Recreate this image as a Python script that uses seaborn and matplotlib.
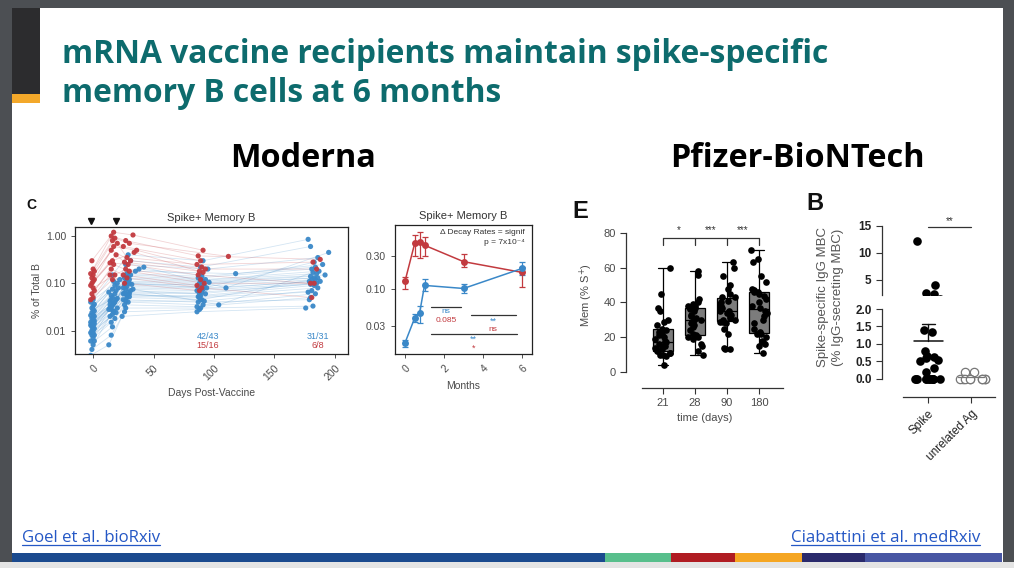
import numpy as np
import pandas as pd
import matplotlib
matplotlib.use("Agg")
import matplotlib.pyplot as plt
from matplotlib.patches import Rectangle
from matplotlib.lines import Line2D
import seaborn as sns

nan = np.nan

# ---------------- DATA ----------------
# Moderna, left panel (Spike+ memory B, % of total B), per-subject visits
blue_day_v1 = [-2,-1,0,1,-2,0,-1,1,0,-2,-1,0,1,0,-1,-2,0,1,-1,0,-2,1,0,-1,0,1,-2,0,-1,1,0,-1,0,1,-2,0]
blue_val_v1 = [0.003,0.004,0.005,0.006,0.006,0.007,0.008,0.008,0.009,0.009,0.010,0.010,0.011,0.012,0.012,0.013,0.013,0.014,
               0.014,0.015,0.015,0.016,0.017,0.018,0.019,0.020,0.021,0.022,0.024,0.026,0.028,0.030,0.033,0.036,0.040,0.045]
blue_day_v2 = [13,15,14,16,17,15,18,14,16,19,13,17,15,20,14,16,18,15,17,19,14,16,20,15,18,17,13,19,16,21,15,18,20,17,22,16]
blue_val_v2 = [0.005,0.008,0.020,0.012,0.025,0.015,0.018,0.030,0.022,0.024,0.028,0.026,0.032,0.030,0.035,0.034,0.040,0.028,
               0.037,0.045,0.042,0.050,0.048,0.055,0.060,0.038,0.065,0.070,0.075,0.080,0.045,0.090,0.100,0.110,0.120,0.150]
blue_day_v3 = [24,26,25,27,28,26,29,25,27,30,28,26,29,31,27,25,28,30,26,29,32,27,28,30,26,33,29,31,28,35,30,38,27,42,31,29]
blue_val_v3 = [0.020,0.025,0.045,0.030,0.050,0.035,0.040,0.060,0.042,0.052,0.055,0.062,0.065,0.070,0.075,0.080,0.085,0.060,
               0.090,0.100,0.095,0.105,0.110,0.120,0.130,0.075,0.140,0.150,0.160,0.180,0.100,0.200,0.250,0.220,0.300,0.400]
blue_day_v4 = [86,88,87,89,90,86,91,88,92,87,89,93,90,88,86,91,94,89,87,92,90,88,96,91,89,104,93,87,90,118,92,88,95,110,89,91]
blue_val_v4 = [0.025,0.028,0.040,0.030,0.045,0.032,0.035,0.050,0.042,0.052,0.055,0.060,0.065,0.060,0.070,0.075,0.080,0.045,
               0.085,0.090,0.095,0.100,0.105,0.110,0.115,0.035,0.120,0.130,0.140,0.160,0.080,0.150,0.200,0.080,0.220,0.300]
blue_day_v5 = [176,nan,179,182,nan,180,184,178,181,186,183,nan,180,185,182,179,188,181,184,nan,183,186,180,192,185,182,187,
               181,184,190,183,nan,186,195,180,178]
blue_val_v5 = [0.030,nan,0.045,0.033,nan,0.050,0.060,0.065,0.070,0.080,0.090,nan,0.095,0.100,0.100,0.110,0.110,0.120,0.120,
               nan,0.130,0.130,0.140,0.150,0.160,0.170,0.180,0.200,0.220,0.250,0.280,nan,0.350,0.450,0.600,0.850]

red_day_v1 = [-2,0,-1,1,0,-2,-1,0,1,-1,0,-2,1,0,-1]
red_val_v1 = [0.045,0.050,0.060,0.070,0.080,0.090,0.100,0.110,0.120,0.130,0.150,0.160,0.180,0.200,0.300]
red_day_v2 = [14,16,15,17,18,14,16,19,15,17,20,16,18,15,17]
red_val_v2 = [0.15,0.12,0.20,0.25,0.15,0.27,0.30,0.40,0.50,0.60,0.70,0.80,0.90,1.00,1.20]
red_day_v3 = [26,28,25,30,27,29,34,26,31,36,28,25,30,27,33]
red_val_v3 = [0.10,0.13,0.15,0.18,0.20,0.25,0.45,0.28,0.30,0.50,0.35,0.60,0.70,0.80,1.05]
red_day_v4 = [88,90,86,92,89,87,91,88,93,90,86,89,112,87,91]
red_val_v4 = [0.07,0.08,0.09,0.10,0.12,0.15,0.17,0.18,0.20,0.22,0.25,0.30,0.37,0.38,0.50]
red_day_v5 = [nan,181,nan,183,nan,180,nan,nan,185,nan,182,nan,nan,188,nan]
red_val_v5 = [nan,0.05,nan,0.10,nan,0.10,nan,nan,0.20,nan,0.28,nan,nan,0.32,nan]

# Moderna, right panel (geometric means with error bars)
months = [0, 0.5, 0.75, 1.0, 3, 6]
red_mean = [0.13, 0.46, 0.48, 0.43, 0.25, 0.175]
red_lo = [0.10, 0.30, 0.28, 0.30, 0.21, 0.107]
red_hi = [0.15, 0.60, 0.67, 0.56, 0.32, 0.21]
blue_mean = [0.017, 0.039, 0.046, 0.114, 0.103, 0.20]
blue_lo = [0.015, 0.034, 0.033, 0.094, 0.088, 0.16]
blue_hi = [0.019, 0.045, 0.057, 0.14, 0.12, 0.25]

# Pfizer, panel E (Mem % S+ by time)
e_labels = ["21", "28", "90", "180"]
mem_d21 = [4,9,10,10,11,11,12,12,13,13,14,15,15,16,17,18,19,20,21,22,23,24,25,27,29,30,35,37,45,60]
mem_d28 = [10,12,15,16,19,20,20,21,22,24,26,27,28,29,30,30,31,32,33,35,36,37,37,38,38,39,40,42,56,58]
mem_d90 = [13,13,14,22,25,28,29,29,30,30,31,32,33,34,35,35,36,37,38,39,40,41,43,43,45,48,50,55,60,63]
mem_d180 = [11,15,16,17,18,20,22,22,23,25,28,30,32,34,35,37,38,40,42,44,45,46,46,47,48,52,55,63,65,70]

# Pfizer, panel B (IgG MBC)
b_labels = ["Spike", "unrelated Ag"]
mbc_spike = [12.3,4.0,2.5,2.4,1.4,1.35,0.8,0.65,0.62,0.6,0.55,0.5,0.3,0.2,0,0,0,0,0,0,0,0,0,0,0,0]
mbc_unrel = [0.2,0.2,0,0,0,0,0,0,0,0,0]

# ---------------- STYLE ----------------
sns.set_theme(style="ticks")
plt.rcParams["font.family"] = ["Liberation Sans", "DejaVu Sans"]
W, H = 1014, 568
fig = plt.figure(figsize=(W / 100, H / 100), dpi=100)
fig.patch.set_facecolor("#4c4f53")

def rect(l, t, r, b):
    return [l / W, 1 - b / H, (r - l) / W, (b - t) / H]

def fx(x):
    return x / W

def fy(y):
    return 1 - y / H

# slide background
fig.add_artist(Rectangle((fx(12), fy(562)), (1003 - 12) / W, (562 - 8) / H, transform=fig.transFigure,
                         facecolor="white", edgecolor="none", zorder=-10))
fig.add_artist(Rectangle((0, 0), 1, 6 / H, transform=fig.transFigure, facecolor="#e4e4e4", edgecolor="none", zorder=-9))
fig.add_artist(Rectangle((fx(12), fy(94)), 28 / W, 86 / H, transform=fig.transFigure, facecolor="#2c2c2e",
                         edgecolor="none"))
fig.add_artist(Rectangle((fx(12), fy(103)), 28 / W, 9 / H, transform=fig.transFigure, facecolor="#f3a82a",
                         edgecolor="none"))
band = [(12, 605, "#1b4a8e"), (605, 671, "#58bf8c"), (671, 735, "#b01c22"), (735, 802, "#f5a623"),
        (802, 865, "#2a2a6c"), (865, 1002, "#4856a3")]
for x0, x1, c in band:
    fig.add_artist(Rectangle((fx(x0), fy(562)), (x1 - x0) / W, 9 / H, transform=fig.transFigure,
                             facecolor=c, edgecolor="none"))

teal = "#0d6b6d"
fig.text(fx(62), fy(63), "mRNA vaccine recipients maintain spike-specific", fontsize=22.9, fontweight="bold",
         color=teal, family="Open Sans", va="baseline")
fig.text(fx(62), fy(102), "memory B cells at 6 months", fontsize=22.9, fontweight="bold",
         color=teal, family="Open Sans", va="baseline")
fig.text(fx(303), fy(167), "Moderna", fontsize=23.3, fontweight="bold", color="black", family="Open Sans",
         ha="center", va="baseline")
fig.text(fx(797), fy(167), "Pfizer-BioNTech", fontsize=23.3, fontweight="bold", color="black", family="Open Sans",
         ha="center", va="baseline")

link_c = "#2457c5"
t1 = fig.text(fx(22), fy(542), "Goel et al. bioRxiv", fontsize=12.1, color=link_c, family="Open Sans", va="baseline")
t2 = fig.text(fx(980), fy(542), "Ciabattini et al. medRxiv", fontsize=12.2, color=link_c, family="Open Sans",
              ha="right", va="baseline")

gray = "#4a4a4a"
blue_c = "#3a88c8"
red_c = "#c23a3f"

# ---------------- Panel C left ----------------
rows = []
blue_days = [blue_day_v1, blue_day_v2, blue_day_v3, blue_day_v4, blue_day_v5]
blue_vals = [blue_val_v1, blue_val_v2, blue_val_v3, blue_val_v4, blue_val_v5]
red_days = [red_day_v1, red_day_v2, red_day_v3, red_day_v4, red_day_v5]
red_vals = [red_val_v1, red_val_v2, red_val_v3, red_val_v4, red_val_v5]
for grp, dl, vl in (("naive", blue_days, blue_vals), ("recovered", red_days, red_vals)):
    for d_arr, v_arr in zip(dl, vl):
        for i, (d, v) in enumerate(zip(d_arr, v_arr)):
            rows.append({"subj": f"{grp}{i}", "group": grp, "day": d, "val": v})
dfc = pd.DataFrame(rows).dropna()
pal = {"naive": blue_c, "recovered": red_c}

axc = fig.add_axes(rect(75, 227, 348, 354))
sns.lineplot(data=dfc, x="day", y="val", hue="group", units="subj", estimator=None, palette=pal,
             lw=0.6, alpha=0.22, legend=False, ax=axc)
sns.scatterplot(data=dfc, x="day", y="val", hue="group", palette=pal, s=14, edgecolor="none",
                alpha=0.95, legend=False, ax=axc, zorder=3)
axc.set_yscale("log")
axc.set_ylim(0.0032, 1.55)
axc.set_xlim(-15, 211)
axc.set_yticks([0.01, 0.1, 1.0])
axc.set_yticklabels(["0.01", "0.10", "1.00"])
axc.minorticks_off()
axc.set_xticks([0, 50, 100, 150, 200])
axc.set_xticklabels(["0", "50", "100", "150", "200"], rotation=45, ha="right", rotation_mode="anchor")
axc.tick_params(labelsize=7.5, labelcolor=gray, length=3, width=0.6, color="#333")
axc.set_xlabel("Days Post-Vaccine", fontsize=7.5, color=gray, labelpad=4)
axc.set_ylabel("% of Total B", fontsize=7.5, color=gray, labelpad=3)
axc.set_title("Spike+ Memory B", fontsize=8, color="#333", pad=4)
for s in axc.spines.values():
    s.set_linewidth(0.9)
    s.set_color("#222")
axc.plot([-2, 19], [2.05, 2.05], "v", color="#111", ms=4.5, clip_on=False)
axc.text(95, 0.0075, "42/43", color=blue_c, fontsize=6.5, ha="center", va="center")
axc.text(95, 0.0048, "15/16", color=red_c, fontsize=6.5, ha="center", va="center")
axc.text(186, 0.0075, "31/31", color=blue_c, fontsize=6.5, ha="center", va="center")
axc.text(186, 0.0048, "6/8", color=red_c, fontsize=6.5, ha="center", va="center")
fig.text(fx(26), fy(209), "C", fontsize=10, fontweight="bold", color="#111")

# ---------------- Panel C right ----------------
axm = fig.add_axes(rect(395, 225, 532, 354))
dfm = pd.DataFrame({"month": months * 2, "val": red_mean + blue_mean,
                    "group": ["recovered"] * 6 + ["naive"] * 6})
sns.lineplot(data=dfm, x="month", y="val", hue="group", palette=pal, marker="o", markersize=5,
             markeredgecolor="none", lw=1.1, legend=False, ax=axm, zorder=3)
axm.errorbar(months, red_mean, yerr=[np.subtract(red_mean, red_lo), np.subtract(red_hi, red_mean)],
             fmt="none", ecolor=red_c, elinewidth=0.9, capsize=2.5, capthick=0.9)
axm.errorbar(months, blue_mean, yerr=[np.subtract(blue_mean, blue_lo), np.subtract(blue_hi, blue_mean)],
             fmt="none", ecolor=blue_c, elinewidth=0.9, capsize=2.5, capthick=0.9)
axm.set_yscale("log")
axm.set_ylim(0.0118, 0.84)
axm.set_xlim(-0.51, 6.5)
axm.set_yticks([0.03, 0.1, 0.3])
axm.set_yticklabels(["0.03", "0.10", "0.30"])
axm.minorticks_off()
axm.set_xticks([0, 2, 4, 6])
axm.set_xticklabels(["0", "2", "4", "6"], rotation=45, ha="right", rotation_mode="anchor")
axm.tick_params(labelsize=7.5, labelcolor=gray, length=3, width=0.6, color="#333")
axm.set_xlabel("Months", fontsize=7.5, color=gray, labelpad=5)
axm.set_ylabel("")
axm.set_title("Spike+ Memory B", fontsize=8, color="#333", pad=4)
for s in axm.spines.values():
    s.set_linewidth(0.9)
    s.set_color("#222")
axm.text(0.95, 0.94, "\u0394 Decay Rates = signif", transform=axm.transAxes, fontsize=6, color="#333",
         ha="right", va="center")
axm.text(0.95, 0.865, "p = 7x10\u207b\u2074", transform=axm.transAxes, fontsize=6, color="#333",
         ha="right", va="center")
axm.plot([1.33, 2.87], [0.055, 0.055], color="#333", lw=0.9)
axm.plot([3.38, 5.7], [0.0434, 0.0434], color="#333", lw=0.9)
axm.plot([1.33, 5.74], [0.023, 0.023], color="#333", lw=0.9)
axm.text(2.1, 0.0475, "ns", color=blue_c, fontsize=6, ha="center", va="center")
axm.text(2.1, 0.0352, "0.085", color=red_c, fontsize=6, ha="center", va="center")
axm.text(4.5, 0.0405, "**", color=blue_c, fontsize=6.5, ha="center", va="top")
axm.text(4.5, 0.0268, "ns", color=red_c, fontsize=6, ha="center", va="center")
axm.text(3.5, 0.0192, "**", color=blue_c, fontsize=6.5, ha="center", va="center")
axm.text(3.5, 0.0145, "*", color=red_c, fontsize=6.5, ha="center", va="center")

# ---------------- Panel E ----------------
dfe = pd.DataFrame({"time": sum([[lab] * len(v) for lab, v in zip(e_labels, [mem_d21, mem_d28, mem_d90, mem_d180])], []),
                    "mem": mem_d21 + mem_d28 + mem_d90 + mem_d180})
axe = fig.add_axes(rect(626, 219, 783, 372))
sns.boxplot(data=dfe, x="time", y="mem", order=e_labels, whis=(0, 100), width=0.62, color="#7c7c7c",
            linecolor="black", linewidth=0.9, fliersize=0, ax=axe,
            boxprops=dict(facecolor="#7c7c7c", edgecolor="black"))
np.random.seed(3)
sns.stripplot(data=dfe, x="time", y="mem", order=e_labels, jitter=0.26, color="black", size=4.8,
              ax=axe, zorder=4)
axe.set_ylim(0, 88)
axe.set_xlim(-1.156, 3.75)
axe.spines["top"].set_visible(False)
axe.spines["right"].set_visible(False)
axe.spines["left"].set_bounds(0, 80)
axe.spines["bottom"].set_position(("outward", 11.5))
axe.spines["bottom"].set_bounds(-0.66, 3.75)
for s in ("left", "bottom"):
    axe.spines[s].set_linewidth(0.9)
    axe.spines[s].set_color("#333")
axe.set_yticks([0, 20, 40, 60, 80])
axe.tick_params(labelsize=8, labelcolor=gray, length=4, width=0.8, color="#333")
axe.set_xlabel("time (days)", fontsize=8, color=gray, labelpad=3)
axe.set_ylabel("Mem (% S$^{+}$)", fontsize=8, color=gray, labelpad=6)
axe.plot([0, 3], [77, 77], color="#333", lw=0.9, clip_on=False)
for xx in range(4):
    axe.plot([xx, xx], [77, 73], color="#333", lw=0.9, clip_on=False)
for xx, st in ((0.5, "*"), (1.5, "***"), (2.5, "***")):
    axe.text(xx, 79, st, fontsize=7, color="#333", ha="center", va="bottom")
fig.text(fx(572), fy(218), "E", fontsize=17, fontweight="bold", color="#111")

# ---------------- Panel B ----------------
dfb = pd.DataFrame({"ag": ["Spike"] * len(mbc_spike) + ["unrelated Ag"] * len(mbc_unrel),
                    "val": mbc_spike + mbc_unrel})
axb_top = fig.add_axes(rect(882, 226, 995, 295))
axb_bot = fig.add_axes(rect(882, 309, 995, 384))
np.random.seed(7)
for ax in (axb_top, axb_bot):
    sns.stripplot(data=dfb[dfb.ag == "Spike"], x="ag", y="val", order=b_labels, jitter=0.3, color="black",
                  size=6.2, ax=ax, zorder=3)
    sns.stripplot(data=dfb[dfb.ag == "unrelated Ag"], x="ag", y="val", order=b_labels, jitter=0.36,
                  color="white", edgecolor="#777", linewidth=0.9, size=6, ax=ax, zorder=3)
    ax.set_xlim(-1.07, 1.56)
    ax.spines["top"].set_visible(False)
    ax.spines["right"].set_visible(False)
    ax.spines["left"].set_linewidth(0.9)
    ax.spines["left"].set_color("#333")
    ax.set_xlabel("")
    ax.set_ylabel("")
    ax.tick_params(labelsize=8.5, labelcolor="#222", length=4, width=0.8, color="#333")
axb_top.set_ylim(2.22, 15.0)
axb_top.set_yticks([5, 10, 15])
axb_top.set_yticklabels(["5", "10", "15"], fontweight="bold")
axb_top.spines["bottom"].set_visible(False)
axb_top.tick_params(axis="x", bottom=False, labelbottom=False)
axb_bot.set_ylim(-0.15, 2.0)
axb_bot.set_yticks([0, 0.5, 1.0, 1.5, 2.0])
axb_bot.set_yticklabels(["0.0", "0.5", "1.0", "1.5", "2.0"], fontweight="bold")
axb_bot.spines["left"].set_bounds(0, 2.0)
axb_bot.spines["bottom"].set_position(("outward", 9.5))
axb_bot.spines["bottom"].set_bounds(-0.58, 1.56)
axb_bot.spines["bottom"].set_linewidth(0.9)
axb_bot.spines["bottom"].set_color("#333")
axb_bot.set_xticks([0, 1])
axb_bot.set_xticklabels(b_labels, rotation=45, ha="right", rotation_mode="anchor", fontsize=8.5,
                        fontweight="normal")
sp_mean = float(np.mean(mbc_spike))
sp_sem = float(np.std(mbc_spike, ddof=1) / np.sqrt(len(mbc_spike)))
un_mean = float(np.mean(mbc_unrel))
axb_bot.plot([-0.33, 0.35], [sp_mean, sp_mean], color="#111", lw=1.1, zorder=5)
axb_bot.plot([0.01, 0.01], [sp_mean, sp_mean + sp_sem], color="#111", lw=1.0, zorder=5)
axb_bot.plot([-0.14, 0.16], [sp_mean + sp_sem] * 2, color="#111", lw=1.0, zorder=5)
axb_bot.plot([0.7, 1.3], [un_mean, un_mean], color="#777", lw=0.9, zorder=5)
axb_top.plot([0, 1], [14.8, 14.8], color="#333", lw=0.9, clip_on=False)
axb_top.text(0.5, 15.0, "**", fontsize=7, color="#333", ha="center", va="bottom")
fig.text(fx(823), fy(297), "Spike-specific IgG MBC", rotation=90, fontsize=9.5, color="#555",
         ha="center", va="center")
fig.text(fx(838), fy(297), "(% IgG-secreting MBC)", rotation=90, fontsize=9.5, color="#555",
         ha="center", va="center")
fig.text(fx(806), fy(210), "B", fontsize=17, fontweight="bold", color="#111")

# underline links
fig.canvas.draw()
r = fig.canvas.get_renderer()
for t in (t1, t2):
    bb = t.get_window_extent(r)
    y = bb.y0 + 1
    fig.add_artist(Line2D([bb.x0 / W, bb.x1 / W], [y / H, y / H], transform=fig.transFigure,
                          color=link_c, lw=0.9))

fig.savefig("out.png", dpi=100, facecolor=fig.get_facecolor())
